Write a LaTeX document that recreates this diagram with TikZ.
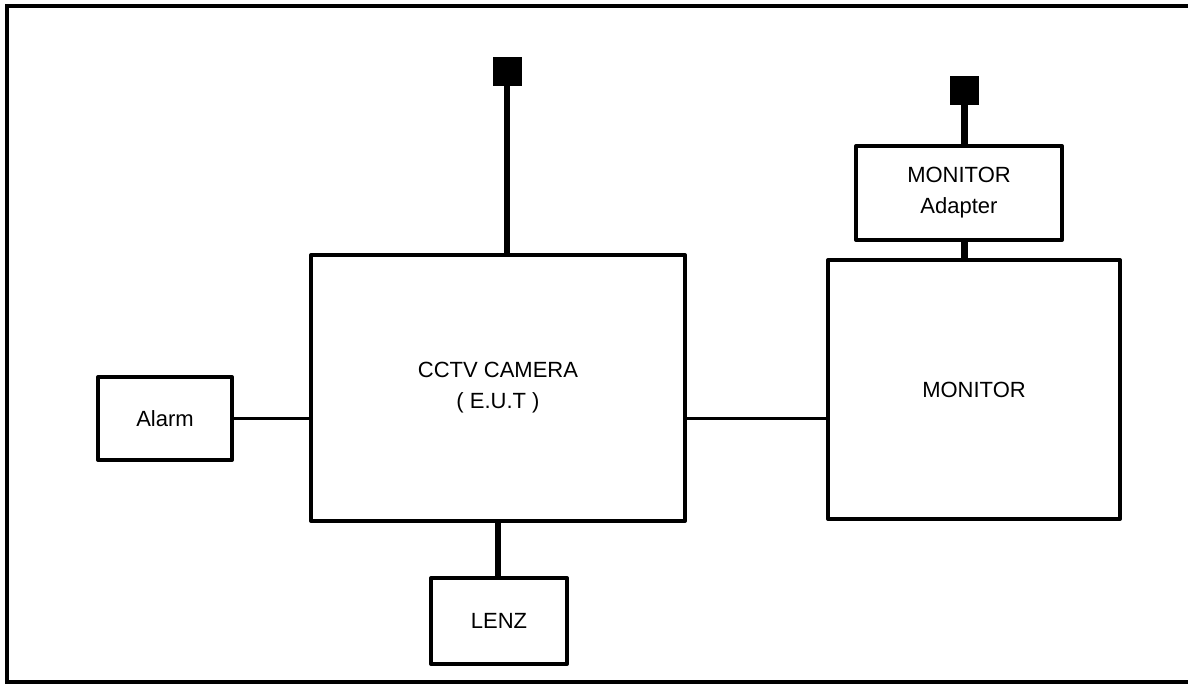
\documentclass[tikz,border=0pt]{standalone}
\usepackage{fontspec}
\setmainfont{Liberation Sans}
\usetikzlibrary{positioning}

\begin{document}
\begin{tikzpicture}[
        x=1pt, y=-1pt,
        box/.style={rectangle, draw=black, line width=4pt, line join=round, align=center, inner sep=0pt, font=\fontsize{22}{31}\selectfont},
        ant/.style={rectangle, fill=black, inner sep=0pt, minimum width=29pt, minimum height=29pt},
        feed/.style={draw, line width=6.5pt},
        link/.style={draw, line width=3.5pt}
    ]
        \useasboundingbox (0,0) rectangle (1188,684);
        \draw [line width=4pt] (1188,6) -- (7,6) -- (7,682) -- (1188,682);

        \node [box, minimum width=374pt, minimum height=266pt] (cam) at (498,388) {CCTV CAMERA\\( E.U.T )};
        \node [box, minimum width=292pt, minimum height=259pt] (mon) at (974,389.5) {MONITOR};
        \node [box, minimum width=206pt, minimum height=94pt] (adp) at (959,193) {MONITOR\\Adapter};
        \node [box, minimum width=134pt, minimum height=83pt] (alarm) at (165,418.5) {Alarm};
        \node [box, minimum width=136pt, minimum height=86pt] (lenz) at (499,621) {LENZ};
        \node [ant] (camant) at (507,71.5) {};
        \node [ant] (adpant) at (964.5,90.5) {};

        \path [feed] (camant.south) -- (camant |- cam.north);
        \path [feed] (adpant.south) -- (adpant |- adp.north);
        \path [feed] (adpant |- adp.south) -- (adpant |- mon.north);
        \path [feed] (lenz.north -| cam.south) -- (cam.south);
        \path [link] (alarm.east) -- (alarm.east -| cam.west);
        \path [link] (cam.east |- alarm.east) -- (mon.west |- alarm.east);
    \end{tikzpicture}
\end{document}
